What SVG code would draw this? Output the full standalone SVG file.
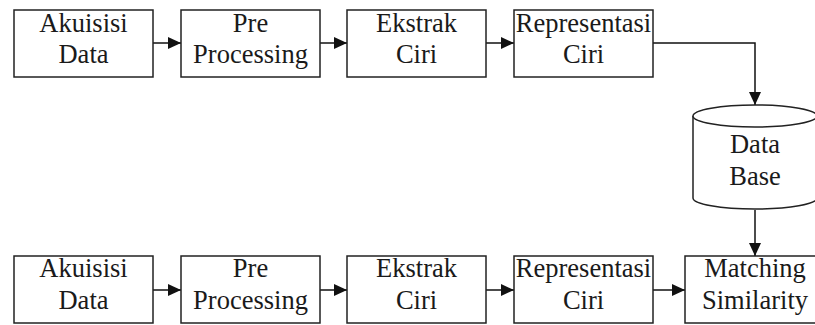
<svg xmlns="http://www.w3.org/2000/svg" width="815" height="325" viewBox="0 0 815 325">
<style>
.box{fill:#fff;stroke:#222;stroke-width:1.5}
.t{font-family:'Liberation Serif','Times New Roman',serif;font-size:26.5px;fill:#1a1a1a;text-anchor:middle}
.c{fill:none;stroke:#111;stroke-width:1.5}
</style>
<defs>
<marker id="ah" viewBox="0 0 13 12" refX="13" refY="6" markerWidth="13" markerHeight="12" markerUnits="userSpaceOnUse" orient="auto">
<path d="M0,0 L13,6 L0,12 Z" fill="#111"/>
</marker>
</defs>
<rect width="815" height="325" fill="#fff"/>
<g id="connectors">
<line class="c" x1="153" y1="43" x2="181" y2="43" marker-end="url(#ah)"/>
<line class="c" x1="320" y1="43" x2="347" y2="43" marker-end="url(#ah)"/>
<line class="c" x1="486" y1="43" x2="514" y2="43" marker-end="url(#ah)"/>
<polyline class="c" points="653,43 755,43 755,105" marker-end="url(#ah)"/>
<line class="c" x1="755" y1="210" x2="755" y2="256" marker-end="url(#ah)"/>
<line class="c" x1="153" y1="290" x2="181" y2="290" marker-end="url(#ah)"/>
<line class="c" x1="320" y1="290" x2="347" y2="290" marker-end="url(#ah)"/>
<line class="c" x1="486" y1="290" x2="514" y2="290" marker-end="url(#ah)"/>
<line class="c" x1="653" y1="290" x2="685" y2="290" marker-end="url(#ah)"/>
</g>
<g id="n1"><rect class="box" x="14" y="10" width="139" height="67"/><text class="t" x="83.5" y="31.5">Akuisisi</text><text class="t" x="83.5" y="63">Data</text></g>
<g id="n2"><rect class="box" x="181" y="10" width="139" height="67"/><text class="t" x="250.5" y="31.5">Pre</text><text class="t" x="250.5" y="63">Processing</text></g>
<g id="n3"><rect class="box" x="347" y="10" width="139" height="67"/><text class="t" x="416.5" y="31.5">Ekstrak</text><text class="t" x="416.5" y="63">Ciri</text></g>
<g id="n4"><rect class="box" x="514" y="10" width="139" height="67"/><text class="t" x="583.5" y="31.5">Representasi</text><text class="t" x="583.5" y="63">Ciri</text></g>
<g id="db">
<path class="box" d="M693,116 L693,198 A62,11 0 0 0 817,198 L817,116"/>
<ellipse class="box" cx="755" cy="116" rx="62" ry="11"/>
<text class="t" x="755" y="153">Data</text><text class="t" x="755" y="185">Base</text>
</g>
<g id="m1"><rect class="box" x="14" y="256" width="139" height="67"/><text class="t" x="83.5" y="277">Akuisisi</text><text class="t" x="83.5" y="308.5">Data</text></g>
<g id="m2"><rect class="box" x="181" y="256" width="139" height="67"/><text class="t" x="250.5" y="277">Pre</text><text class="t" x="250.5" y="308.5">Processing</text></g>
<g id="m3"><rect class="box" x="347" y="256" width="139" height="67"/><text class="t" x="416.5" y="277">Ekstrak</text><text class="t" x="416.5" y="308.5">Ciri</text></g>
<g id="m4"><rect class="box" x="514" y="256" width="139" height="67"/><text class="t" x="583.5" y="277">Representasi</text><text class="t" x="583.5" y="308.5">Ciri</text></g>
<g id="m5"><rect class="box" x="685" y="256" width="140" height="67"/><text class="t" x="755" y="277">Matching</text><text class="t" x="755" y="308.5">Similarity</text></g>
</svg>
